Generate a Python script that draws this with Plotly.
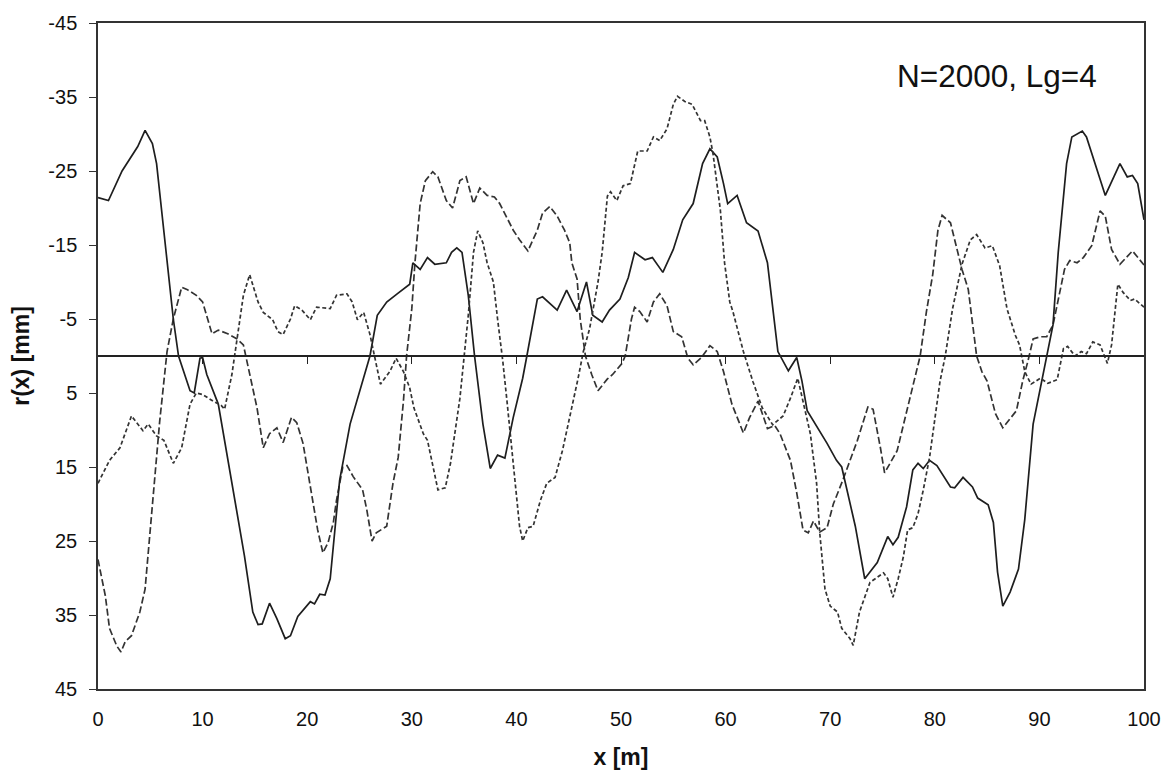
import plotly.graph_objects as go

# ---------------- data ----------------
x_ticks = [0, 10, 20, 30, 40, 50, 60, 70, 80, 90, 100]
y_ticks = [-45, -35, -25, -15, -5, 5, 15, 25, 35, 45]

# solid realisation
a_x = [0, 1, 2.3, 3.8, 4.5, 5.2, 5.6, 6.6, 7.2, 7.7, 8.8, 9.2, 9.75, 10.0, 10.4, 11.5, 12.3, 12.9, 14, 14.8,
       15.3, 15.7, 16.4, 17.1, 17.9, 18.4, 19.1, 20.3, 20.7, 21.2, 21.7, 22.2, 22.5, 23.1, 24.1, 25, 26, 26.7, 27.6, 28.6,
       29.8, 30.1, 30.8, 31.5, 32.2, 33.3, 33.8, 34.3, 34.8, 35.4, 36, 36.8, 37.5, 38.2, 38.9, 39.7, 40.6, 41, 42, 42.5,
       43.9, 44.8, 45.8, 46.7, 47.3, 48.2, 48.9, 49.9, 50.7, 51.3, 52.3, 53, 54, 55, 55.9, 56.9, 57.8, 58.5, 59.2, 59.8,
       60.2, 61.1, 62, 63.1, 64, 65, 66, 66.8, 67.3, 67.8, 68.7, 69.7, 70.6, 71.1, 72.4, 73.3, 74.5, 75.5, 76, 76.5,
       77.3, 77.9, 78.4, 78.9, 79.5, 80.2, 81.5, 81.9, 82.7, 83.6, 84.1, 85.1, 85.6, 86, 86.5, 87.2, 88, 88.6, 89.4, 90.2,
       90.7, 91.3, 91.8, 92.6, 93.1, 94.1, 94.5, 95.1, 96.3, 97.7, 98.4, 98.9, 99.4, 100]
a_y = [-21.4, -21.0, -25, -28.3, -30.5, -28.7, -26, -12.6, -5, 0, 4.7, 5, 0.3, 0.2, 2.5, 6.5, 13.2, 18.1, 27, 34.6,
       36.3, 36.2, 33.4, 35.5, 38.2, 37.8, 35.2, 33.2, 33.5, 32.2, 32.3, 30.1, 25.7, 16.8, 9.2, 4.7, 0, -5.5, -7.3, -8.4,
       -9.7, -12.6, -11.7, -13.3, -12.4, -12.6, -14, -14.6, -14, -8.2, 0, 9.2, 15.2, 13.4, 13.8, 8.3, 3, 0, -7.7, -8,
       -6.2, -8.9, -6, -10, -5.5, -4.6, -6.2, -7.7, -10.6, -14, -13, -13.3, -11.3, -14.4, -18.4, -20.6, -26, -28, -26.9, -23.3,
       -20.6, -21.7, -18, -16.9, -12.6, -0.6, 2, 0.2, 3.4, 7.4, 9.4, 11.8, 14.1, 15, 23, 30.1, 27.9, 24.4, 25.5, 24.5,
       20.4, 15.4, 14.5, 15.2, 14.1, 14.8, 17.7, 17.8, 16.4, 17.7, 19.2, 20.1, 22.5, 29.2, 33.8, 31.9, 28.8, 22.1, 9.2, 3.4,
       0, -4.2, -14, -26, -29.6, -30.4, -29.6, -26.9, -21.7, -26, -24.2, -24.4, -23.3, -18.4]

# long-dash realisation
b_x = [0, 0.2, 0.7, 1.1, 1.8, 2.2, 2.6, 3.2, 4, 4.5, 5, 5.4, 5.9, 6.6, 7.2, 8, 8.5, 9.4, 10, 10.9,
       11.5, 12.4, 13.3, 13.9, 14.5, 15.2, 15.8, 16.4, 17.1, 17.7, 18.5, 19, 19.6, 20.3, 21, 21.5, 22, 22.5, 22.8, 23.4,
       23.8, 24.4, 25.3, 25.7, 26.2, 26.6, 27.6, 28.2, 28.7, 29.2, 29.5, 30, 30.3, 30.8, 31.3, 32, 32.5, 33.3, 33.9, 34.6,
       35.2, 35.9, 36.5, 37.2, 37.9, 38.4, 39.1, 39.7, 40.3, 41.1, 42, 42.5, 43.2, 43.9, 44.6, 45.1, 45.3, 45.8, 46.1, 46.6,
       47.2, 47.8, 48.7, 49.2, 50.1, 50.4, 51, 51.3, 51.8, 52.5, 53.1, 53.7, 54.4, 55, 55.8, 56.4, 56.9, 57.7, 58.5, 59.2,
       59.8, 60.6, 61.7, 62.3, 63.1, 64, 64.7, 65.2, 66.2, 66.8, 67.4, 67.9, 68.4, 69, 69.7, 70.3, 71.2, 72.6, 73.6, 74.1,
       74.8, 75.2, 76.4, 77.6, 78.6, 79.2, 79.8, 80.3, 80.7, 81.5, 82.6, 83.2, 84, 84.5, 85, 85.8, 86.5, 87.8, 88.4, 88.9,
       89.4, 90.1, 90.7, 91.3, 91.8, 92.4, 92.9, 93.6, 94.2, 95, 95.8, 96.3, 96.9, 97.7, 98.9, 99.8, 100]
b_y = [27.5, 29, 32.4, 36.8, 39.2, 40, 38.6, 37.8, 34.6, 31.5, 23.5, 16.8, 8.8, -0.6, -5, -9.3, -9, -8.2, -7.3, -3,
       -3.5, -3, -2.3, -1.5, 2.5, 7, 12.4, 10.5, 9.7, 11.7, 8.3, 9, 11.8, 17.7, 23.5, 26.6, 25.2, 22.5, 19.5, 15,
       14.8, 16.3, 18.1, 20.8, 25, 23.9, 23, 17.2, 13.7, 6.1, 0, -6.4, -12.6, -20.6, -23.7, -24.9, -24.2, -21, -20, -23.7,
       -24.2, -20.6, -22.7, -21.7, -21.5, -20.6, -18.6, -17, -15.7, -14.2, -17, -19.3, -20.2, -18.9, -17, -15.3, -12.6, -10.4, -5, 0,
       2.5, 4.7, 3.1, 2.5, 1, 0, -5, -6.6, -6, -4.6, -7.3, -8.4, -6.8, -3.3, -2.6, 0.3, 1.2, 0.2, -1.4, -0.6,
       2.1, 6.5, 10.4, 8.3, 6.1, 9.8, 9.4, 10.5, 14.1, 18.5, 23.5, 23.9, 22.3, 23.8, 23.2, 20, 16.8, 11.4, 6.9, 7.2,
       12.4, 15.8, 12.8, 5.6, 0, -6, -11, -17, -19, -18, -11.7, -9, 0, 2.1, 3.4, 7.8, 9.7, 7.4, 3.4, 0.7,
       -2.3, -2.6, -2.6, -4.2, -7.7, -11.7, -12.9, -12.6, -13.3, -14.9, -19.6, -18.9, -14.4, -12.4, -14.2, -12.6, -12.3]

# short-dash realisation
c_x = [0, 1.1, 2.1, 3.2, 4.3, 4.8, 5.6, 6.3, 7.2, 8, 8.8, 9.4, 10, 11, 11.8, 12.1, 12.8, 13.3, 13.9, 14.5,
       15.3, 15.8, 16.7, 17.2, 17.7, 18.4, 18.8, 19.5, 20.3, 20.9, 22.2, 22.8, 23.8, 24.3, 24.8, 25.4, 26, 27, 27.9, 28.5,
       29.2, 29.8, 30.2, 31.1, 31.5, 32.5, 33.2, 33.7, 34.6, 35.4, 35.9, 36.3, 36.8, 37.2, 37.8, 38.2, 38.7, 39.1, 39.6, 39.9,
       40.3, 40.6, 41.1, 41.6, 42.3, 42.9, 43.7, 44.4, 45.1, 45.9, 46.4, 47, 47.8, 48.2, 48.7, 49, 49.6, 50.2, 50.9, 51.6,
       52.5, 53.1, 53.7, 54.4, 55, 55.4, 56.1, 56.8, 57.6, 58, 58.5, 58.8, 59.5, 59.9, 60.4, 60.7, 61.7, 62.6, 63.5, 64.5,
       65.5, 66.2, 66.9, 67.4, 68.1, 68.7, 69, 69.5, 70, 70.7, 71.1, 71.9, 72.2, 72.8, 73.8, 75.1, 75.5, 76, 76.5, 77,
       77.4, 77.9, 78.4, 78.9, 79.5, 80.5, 81, 81.7, 82.6, 83.4, 84, 84.8, 85.5, 86.2, 86.9, 87.7, 88.1, 88.6, 89.2, 90.1,
       90.8, 91.7, 92.3, 92.7, 93.4, 94, 94.5, 95.1, 95.8, 96.5, 96.9, 97.5, 98, 98.7, 99.1, 100]
c_y = [17.2, 14.1, 12.4, 8.1, 10.1, 9.2, 10.8, 11.4, 14.5, 12.4, 6.5, 5, 5.2, 6.1, 6.7, 7.2, 2.5, -2.3, -8.2, -11,
       -7.3, -5.9, -4.9, -3.3, -2.9, -5, -6.8, -6.2, -4.9, -6.6, -6.4, -8.2, -8.4, -7.3, -4.9, -5.9, -2.9, 3.8, 2.1, 0.3,
       2.1, 4.3, 7, 10.5, 11.4, 18.1, 17.8, 14.5, 5.7, -5.5, -14, -16.9, -15.3, -12.6, -10, -5, 0.7, 6.1, 12.8, 17.2,
       23, 25, 23.2, 23, 19.5, 17.2, 16.4, 12.8, 8.3, 3, -0.6, -3.7, -10, -14, -21.6, -22.2, -21, -23, -23.3, -27.7,
       -27.7, -29.6, -29.1, -30.7, -34, -35.1, -34.4, -34, -31.8, -31.8, -29.6, -27.3, -19.7, -12.6, -7.3, -6, -0.6, 3.4, 7, 9.3,
       8.1, 5.7, 3, 6.1, 10.5, 17.2, 23.9, 31.5, 33.8, 34.6, 36.8, 38.2, 39.1, 34.6, 30.6, 29.3, 30.1, 32.6, 30.1, 27.1,
       23.5, 23.2, 21.3, 18.1, 13.7, 3.4, 0, -6.4, -12.4, -15.7, -16.4, -14.6, -14.9, -12.2, -6.4, -2.8, -1.5, 2.1, 3.8, 3,
       3.7, 3.2, -1, -1.3, 0, -0.6, -0.3, -1.9, -1.5, 1, -1.5, -9.7, -8.6, -7.5, -7.7, -6.6]

label_text = "N=2000, Lg=4"

# ---------------- figure ----------------
FONT = "Liberation Sans, Arial, sans-serif"

fig = go.Figure()
fig.add_trace(go.Scatter(x=c_x, y=c_y, mode="lines", xaxis="x2",
                         line=dict(color="#333333", width=1.7, dash="4px,2.5px")))
fig.add_trace(go.Scatter(x=b_x, y=b_y, mode="lines",
                         line=dict(color="#333333", width=1.7, dash="7px,3px")))
fig.add_trace(go.Scatter(x=a_x, y=a_y, mode="lines",
                         line=dict(color="#1e1e1e", width=1.7)))

fig.add_annotation(x=85.9, y=-37.8, xref="x", yref="y", text=label_text, showarrow=False,
                   xanchor="center", yanchor="middle", font=dict(family=FONT, size=31.5, color="#111"))

fig.update_layout(
    width=1173, height=778,
    margin=dict(l=98, r=29, t=18, b=87),
    plot_bgcolor="white", paper_bgcolor="white",
    showlegend=False,
    font=dict(family=FONT, color="#111"),
    xaxis=dict(range=[0, 100], tickvals=x_ticks, ticktext=[str(v) for v in x_ticks],
               showgrid=False, zeroline=False,
               showline=True, mirror=True, linecolor="#333", linewidth=1.5,
               ticks="outside", ticklen=6, tickcolor="rgba(0,0,0,0)",
               ticklabelstandoff=5,
               tickfont=dict(size=20, family=FONT, color="#111"),
               title=dict(text="x [m]", standoff=20,
                          font=dict(size=23, family=FONT, color="#111", weight="bold"))),
    xaxis2=dict(range=[0, 100], matches="x", overlaying="x", anchor="free", position=0.5,
                side="bottom", tickvals=x_ticks[1:-1], showticklabels=False,
                ticks="outside", ticklen=7, tickcolor="#222", tickwidth=1.3,
                showline=True, linecolor="#222", linewidth=1.5, showgrid=False, zeroline=False),
    yaxis=dict(range=[45, -45], tickvals=y_ticks, ticktext=[str(v) for v in y_ticks],
               showgrid=False, zeroline=False,
               showline=True, mirror=True, linecolor="#333", linewidth=1.5,
               ticks="outside", ticklen=7, tickcolor="#333", tickwidth=1.3,
               ticklabelstandoff=8,
               tickfont=dict(size=20, family=FONT, color="#111"),
               title=dict(text="r(x) [mm]", standoff=12,
                          font=dict(size=23, family=FONT, color="#111", weight="bold"))),
)

fig.write_html("out.html", config={"displayModeBar": False},
               post_script="document.body.style.margin='0';")
